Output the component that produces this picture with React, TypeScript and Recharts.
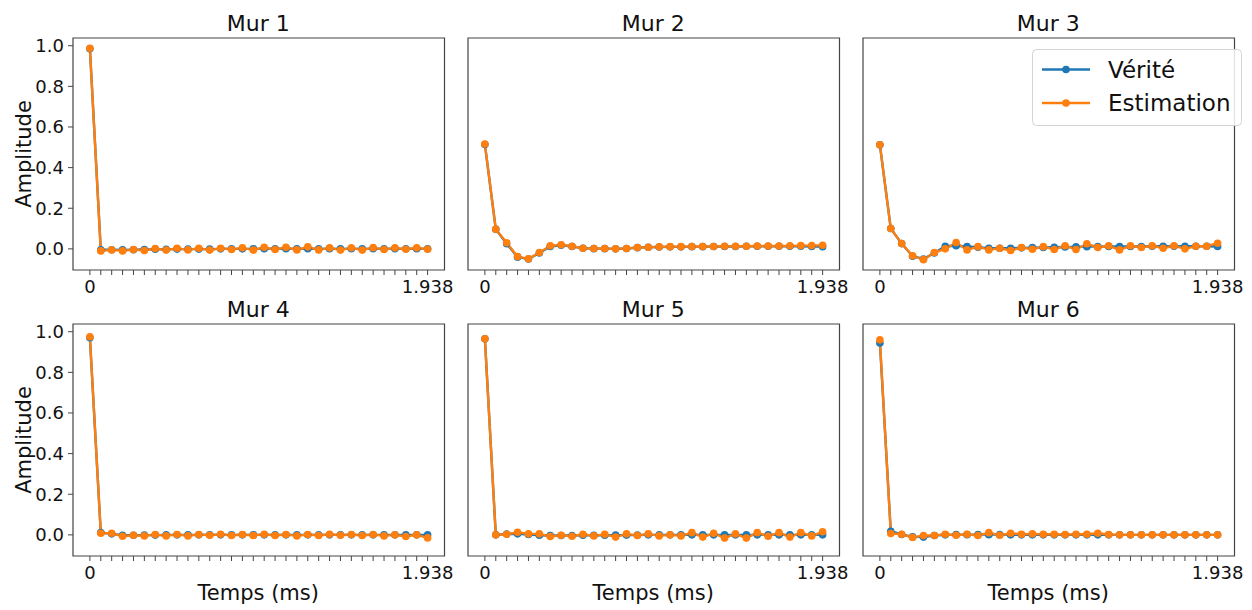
import { Line, LineChart, ReferenceArea, XAxis, YAxis } from "recharts"

// sampling grid, 16 kHz -> 0.0625 ms
const TIMES = [
    0, 0.0625, 0.125, 0.1875, 0.25, 0.3125, 0.375, 0.4375,
    0.5, 0.5625, 0.625, 0.6875, 0.75, 0.8125, 0.875, 0.9375,
    1, 1.0625, 1.125, 1.1875, 1.25, 1.3125, 1.375, 1.4375,
    1.5, 1.5625, 1.625, 1.6875, 1.75, 1.8125, 1.875, 1.9375,
]

const TITLES = ["Mur 1", "Mur 2", "Mur 3", "Mur 4", "Mur 5", "Mur 6"]
const Y_TICKS = [0, 0.2, 0.4, 0.6, 0.8, 1.0]

const verite1 = [0.985, -0.004, -0.004, -0.005, -0.004, -0.003, -0.002, -0.002, -0.001, -0.001, -0.001, -0.001, 0, 0, 0, 0, 0.001, 0, 0.001, 0, 0.001, 0, 0.001, 0, 0.001, 0, 0.001, 0, 0.001, 0, 0.001, 0]
const estimation1 = [0.987, -0.01, -0.005, -0.01, -0.003, -0.008, 0.002, -0.006, 0.003, -0.005, 0.003, -0.006, 0.003, -0.003, 0.005, -0.006, 0.008, -0.003, 0.008, -0.005, 0.01, -0.005, 0.005, -0.006, 0.005, -0.006, 0.006, -0.003, 0.005, -0.002, 0.005, -0.002]

const verite2 = [0.514, 0.096, 0.025, -0.041, -0.05, -0.02, 0.012, 0.018, 0.012, 0.003, 0.001, 0.001, 0, 0.002, 0.006, 0.008, 0.009, 0.01, 0.01, 0.011, 0.011, 0.012, 0.012, 0.012, 0.013, 0.013, 0.013, 0.013, 0.013, 0.013, 0.012, 0.011]
const estimation2 = [0.516, 0.097, 0.03, -0.038, -0.049, -0.018, 0.015, 0.02, 0.013, 0.003, 0.002, 0.002, 0, 0.002, 0.007, 0.008, 0.01, 0.011, 0.011, 0.012, 0.012, 0.012, 0.013, 0.013, 0.013, 0.014, 0.014, 0.014, 0.015, 0.016, 0.016, 0.018]

const verite3 = [0.512, 0.1, 0.026, -0.036, -0.05, -0.02, 0.013, 0.015, 0.012, 0.008, 0.003, 0.003, 0.003, 0.005, 0.006, 0.007, 0.008, 0.009, 0.01, 0.011, 0.011, 0.012, 0.012, 0.012, 0.012, 0.013, 0.013, 0.013, 0.013, 0.013, 0.013, 0.012]
const estimation3 = [0.512, 0.1, 0.026, -0.034, -0.053, -0.018, 0, 0.031, -0.005, 0.011, -0.005, 0.003, -0.008, 0.007, -0.002, 0.011, -0.003, 0.015, -0.003, 0.025, 0.007, 0.015, -0.005, 0.015, 0.007, 0.015, 0.003, 0.015, 0, 0.013, 0.013, 0.028]

const verite4 = [0.97, 0.012, 0.005, -0.002, -0.002, -0.001, -0.001, 0, 0, 0, 0, 0, 0, 0, 0, 0, 0, 0, 0, 0, 0, 0, 0, 0, 0, 0, 0, 0, 0, 0, 0, 0]
const estimation4 = [0.975, 0.008, 0.008, -0.007, -0.002, -0.005, 0.002, -0.005, 0.002, -0.005, 0.002, -0.002, 0.003, -0.003, 0.002, -0.003, 0.003, -0.003, 0.002, -0.005, 0.002, -0.003, 0.003, -0.002, 0.002, -0.003, 0.002, -0.005, 0, -0.008, 0, -0.015]

const verite5 = [0.965, 0, 0.004, 0.005, 0.002, -0.002, -0.003, -0.003, -0.003, -0.002, -0.002, -0.002, -0.001, -0.001, -0.001, 0, 0, 0, 0, 0, 0, 0, 0, 0, 0, 0, 0, 0, 0, 0, 0, 0]
const estimation5 = [0.965, 0, 0.003, 0.013, 0.005, 0.005, -0.008, -0.002, -0.007, 0.003, -0.005, 0.003, -0.011, 0.005, -0.003, 0.005, -0.005, 0, -0.005, 0.011, -0.011, 0.008, -0.016, 0.005, -0.016, 0.011, -0.007, 0.011, -0.011, 0.011, -0.005, 0.015]

const verite6 = [0.945, 0.018, 0.002, -0.01, -0.011, -0.003, 0, 0.001, 0.001, 0.001, 0.001, 0.001, 0, 0, 0, 0, 0, 0, 0, 0, 0, 0, 0, 0, 0, 0, 0, 0, 0, 0, 0, 0]
const estimation6 = [0.96, 0.007, 0.003, -0.013, -0.003, -0.003, 0.003, -0.002, 0.003, -0.003, 0.011, -0.002, 0.008, 0.003, 0.005, 0.003, 0.003, 0.002, 0.003, 0.003, 0.008, 0.002, 0, 0, 0, 0, 0, 0, 0, 0, 0, 0]

const VERITE = [verite1, verite2, verite3, verite4, verite5, verite6]
const ESTIMATION = [estimation1, estimation2, estimation3, estimation4, estimation5, estimation6]

const BLUE = "#1f77b4"
const ORANGE = "#ff7f0e"
const SPINE = "#444"
const FONT = "'DejaVu Sans', sans-serif"

const X_DOMAIN = [-0.0969, 2.0344]
const Y_DOMAIN = [-0.104, 1.038]

// layout (page pixels)
const BOX_W = 371.5
const BOX_H = 232
const COL_X = [72.5, 467.5, 862.5]
const ROW_Y = [38, 324]
const AXIS_W = 50
const AXIS_H = 40
const PAD = 10

function Panel({ index }: { index: number }) {
    const col = index % 3
    const row = Math.floor(index / 3)
    const data = TIMES.map((t, i) => ({
        t,
        verite: VERITE[index][i],
        estimation: ESTIMATION[index][i],
    }))
    const last = TIMES[TIMES.length - 1]

    return (
        <div style={{ position: "absolute", left: COL_X[col] - AXIS_W, top: ROW_Y[row] - PAD }}>
            <LineChart
                width={BOX_W + AXIS_W + PAD}
                height={BOX_H + PAD + AXIS_H}
                data={data}
                margin={{ top: PAD, right: PAD, left: 0, bottom: 0 }}
                style={{ fontFamily: FONT }}
            >
                <XAxis
                    dataKey="t"
                    type="number"
                    domain={X_DOMAIN}
                    allowDataOverflow
                    ticks={TIMES}
                    interval={0}
                    height={AXIS_H}
                    axisLine={false}
                    tickLine={{ stroke: SPINE, strokeWidth: 1 }}
                    tickSize={5}
                    tickMargin={5}
                    tick={{ fontSize: 18, fill: "#111" }}
                    tickFormatter={(v: number) => (v === 0 ? "0" : v === last ? v.toFixed(3) : "")}
                />
                <YAxis
                    type="number"
                    domain={Y_DOMAIN}
                    allowDataOverflow
                    ticks={Y_TICKS}
                    interval={0}
                    width={AXIS_W}
                    axisLine={false}
                    tickLine={{ stroke: SPINE, strokeWidth: 1 }}
                    tickSize={5}
                    tickMargin={4}
                    tick={col === 0 ? { fontSize: 18, fill: "#111" } : false}
                    tickFormatter={(v: number) => v.toFixed(1)}
                />
                <ReferenceArea
                    x1={X_DOMAIN[0]}
                    x2={X_DOMAIN[1]}
                    y1={Y_DOMAIN[0]}
                    y2={Y_DOMAIN[1]}
                    fill="none"
                    stroke={SPINE}
                    strokeWidth={1.2}
                    strokeOpacity={1}
                />
                <Line
                    dataKey="verite"
                    stroke={BLUE}
                    strokeWidth={2.4}
                    dot={{ r: 3.8, fill: BLUE, stroke: BLUE, strokeWidth: 0 }}
                    activeDot={false}
                    isAnimationActive={false}
                />
                <Line
                    dataKey="estimation"
                    stroke={ORANGE}
                    strokeWidth={2.4}
                    dot={{ r: 3.8, fill: ORANGE, stroke: ORANGE, strokeWidth: 0 }}
                    activeDot={false}
                    isAnimationActive={false}
                />
            </LineChart>
        </div>
    )
}

export default function App() {
    return (
        <div style={{ position: "absolute", left: 0, top: 0, width: 1252, height: 610, background: "#fff", fontFamily: FONT }}>
            {TITLES.map((_, i) => (
                <Panel key={i} index={i} />
            ))}
            <svg width={1252} height={610} style={{ position: "absolute", left: 0, top: 0, pointerEvents: "none" }}>
                {TITLES.map((title, i) => (
                    <text
                        key={title}
                        x={COL_X[i % 3] + BOX_W / 2}
                        y={ROW_Y[Math.floor(i / 3)] - 7}
                        textAnchor="middle"
                        fontSize={22}
                        fontFamily={FONT}
                        fill="#111"
                    >
                        {title}
                    </text>
                ))}
                {ROW_Y.map((y) => (
                    <text
                        key={"amp" + y}
                        x={31}
                        y={y + BOX_H / 2}
                        transform={`rotate(-90, 31, ${y + BOX_H / 2})`}
                        textAnchor="middle"
                        fontSize={21}
                        fontFamily={FONT}
                        fill="#111"
                    >
                        Amplitude
                    </text>
                ))}
                {COL_X.map((x) => (
                    <text
                        key={"temps" + x}
                        x={x + BOX_W / 2}
                        y={600}
                        textAnchor="middle"
                        fontSize={21}
                        fontFamily={FONT}
                        fill="#111"
                    >
                        Temps (ms)
                    </text>
                ))}
                {/* legend of Mur 3 */}
                <rect x={1032.5} y={49.5} width={209} height={76} rx={4} fill="#fff" fillOpacity={0.85} stroke="#d4d4d4" strokeWidth={1} />
                <line x1={1042} y1={69.5} x2={1090} y2={69.5} stroke={BLUE} strokeWidth={2.4} />
                <circle cx={1066} cy={69.5} r={3.8} fill={BLUE} />
                <text x={1108} y={77.5} fontSize={23} fontFamily={FONT} fill="#111">Vérité</text>
                <line x1={1042} y1={103} x2={1090} y2={103} stroke={ORANGE} strokeWidth={2.4} />
                <circle cx={1066} cy={103} r={3.8} fill={ORANGE} />
                <text x={1108} y={111} fontSize={23} fontFamily={FONT} fill="#111">Estimation</text>
            </svg>
        </div>
    )
}
